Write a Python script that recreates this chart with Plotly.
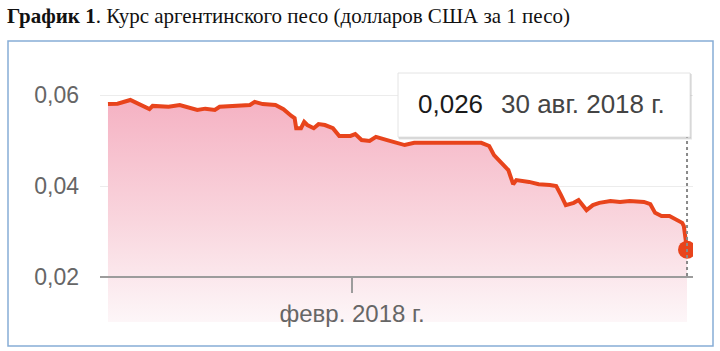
import plotly.graph_objects as go

# ---------------- data ----------------
dates = [
    "2017-09-01", "2017-09-07", "2017-09-15", "2017-09-21", "2017-09-27", "2017-09-29",
    "2017-10-09", "2017-10-16", "2017-10-22", "2017-10-27", "2017-11-01", "2017-11-07",
    "2017-11-10", "2017-11-23", "2017-11-29", "2017-12-02", "2017-12-07", "2017-12-15",
    "2017-12-20", "2017-12-25", "2017-12-27", "2017-12-28", "2017-12-31", "2018-01-02",
    "2018-01-04", "2018-01-08", "2018-01-11", "2018-01-15", "2018-01-20", "2018-01-24",
    "2018-01-31", "2018-02-03", "2018-02-07", "2018-02-12", "2018-02-16", "2018-02-23",
    "2018-02-28", "2018-03-06", "2018-03-12", "2018-03-21", "2018-04-03", "2018-04-15",
    "2018-04-23", "2018-04-28", "2018-05-01", "2018-05-04", "2018-05-07", "2018-05-10",
    "2018-05-13", "2018-05-15", "2018-05-23", "2018-05-29", "2018-06-05", "2018-06-09",
    "2018-06-12", "2018-06-15", "2018-06-20", "2018-06-23", "2018-06-28", "2018-07-02",
    "2018-07-06", "2018-07-13", "2018-07-19", "2018-07-25", "2018-08-03", "2018-08-07",
    "2018-08-10", "2018-08-14", "2018-08-19", "2018-08-24", "2018-08-27", "2018-08-28",
    "2018-08-29", "2018-08-30",
]
rate = [
    0.0580, 0.0581, 0.0589, 0.0580, 0.0569, 0.0576,
    0.0574, 0.0578, 0.0571, 0.0567, 0.0570, 0.0567,
    0.0574, 0.0576, 0.0578, 0.0585, 0.0580, 0.0578,
    0.0569, 0.0554, 0.0549, 0.0527, 0.0527, 0.0541,
    0.0534, 0.0527, 0.0536, 0.0534, 0.0527, 0.0510,
    0.0510, 0.0514, 0.0501, 0.0499, 0.0508, 0.0501,
    0.0495, 0.0490, 0.0495, 0.0495, 0.0497, 0.0497,
    0.0495, 0.0488, 0.0468, 0.0457, 0.0446, 0.0435,
    0.0404, 0.0413, 0.0409, 0.0404, 0.0402, 0.0400,
    0.0380, 0.0358, 0.0363, 0.0369, 0.0347, 0.0358,
    0.0363, 0.0367, 0.0365, 0.0367, 0.0365, 0.0360,
    0.0341, 0.0334, 0.0334, 0.0325, 0.0319, 0.0312,
    0.0290, 0.0260,
]
y_ticks = [0.02, 0.04, 0.06]
x_tick_dates = ["2018-02-01"]
x_tick_text = ["февр. 2018 г."]
title_bold = "График 1"
title_rest = ". Курс аргентинского песо (долларов США за 1 песо)"
tooltip_value = "0,026"
tooltip_date = "30 авг. 2018 г."

# ---------------- layout geometry ----------------
W, H = 720, 351
L, R, T, B = 100, 27, 60, 29
PW, PH = W - L - R, H - T - B


def px(x):
    return (x - L) / PW


def py(y):
    return (H - B - y) / PH


# y axis: 0.02 per 91 px, 0.02 line at pixel 277
y_lo = 0.02 - (H - B - 277) / 91 * 0.02
y_hi = 0.02 + (277 - T) / 91 * 0.02

LINE = "#e8441c"
FONT = "Liberation Sans, Arial, sans-serif"

fig = go.Figure()
fig.add_trace(go.Scatter(
    x=dates, y=rate, mode="lines",
    line=dict(color=LINE, width=4, shape="linear"),
    fill="tozeroy",
    fillgradient=dict(
        type="vertical",
        colorscale=[[0, "rgba(253,246,248,1)"], [0.45, "rgb(249,214,222)"], [1, "rgb(245,178,195)"]],
        start=y_lo, stop=max(rate),
    ),
    hoverinfo="skip", showlegend=False,
))
fig.add_trace(go.Scatter(
    x=[dates[-1]], y=[rate[-1]], mode="markers",
    marker=dict(color=LINE, size=18),
    hoverinfo="skip", showlegend=False,
))

shapes = [
    # outer frame
    dict(type="rect", xref="paper", yref="paper", x0=px(8), x1=px(713), y0=py(346), y1=py(41),
         line=dict(color="#86add6", width=1.5), fillcolor="rgba(0,0,0,0)", layer="above"),
    # dotted hover line
    dict(type="line", xref="x", yref="paper", x0=dates[-1], x1=dates[-1], y0=py(276), y1=py(73),
         line=dict(color="#8a8a8a", width=2, dash="dot"), layer="above"),
    # tooltip shadow
    dict(type="rect", xref="paper", yref="paper", x0=px(399), x1=px(692), y0=py(139.5), y1=py(74),
         line=dict(width=0), fillcolor="rgba(0,0,0,0.10)", layer="above"),
    dict(type="rect", xref="paper", yref="paper", x0=px(398), x1=px(691), y0=py(138.5), y1=py(73),
         line=dict(width=0), fillcolor="rgba(0,0,0,0.10)", layer="above"),
    # tooltip box
    dict(type="rect", xref="paper", yref="paper", x0=px(398), x1=px(690), y0=py(137), y1=py(73),
         line=dict(color="#e4e4e4", width=1), fillcolor="white", layer="above"),
]

annotations = [
    dict(xref="paper", yref="paper", x=px(5), y=py(16), xanchor="left", yanchor="middle",
         text=f"<b>{title_bold}</b>{title_rest}", showarrow=False,
         font=dict(family="Liberation Serif, Times New Roman, serif", size=21, color="#111")),
    dict(xref="paper", yref="paper", x=px(416), y=py(104), xanchor="left", yanchor="middle",
         text=tooltip_value, showarrow=False,
         font=dict(family=FONT, size=26, color="#1a1a1a")),
    dict(xref="paper", yref="paper", x=px(499), y=py(104), xanchor="left", yanchor="middle",
         text=tooltip_date, showarrow=False,
         font=dict(family=FONT, size=26, color="#444444")),
]

fig.update_layout(
    width=W, height=H,
    margin=dict(l=L, r=R, t=T, b=B),
    paper_bgcolor="white", plot_bgcolor="rgba(0,0,0,0)",
    separators=", ",
    showlegend=False,
    shapes=shapes, annotations=annotations,
    xaxis=dict(
        type="date", range=["2017-08-27", "2018-09-02 18:00"],
        anchor="free", position=py(277),
        showgrid=False, zeroline=False,
        showline=True, linecolor="#9c9c9c", linewidth=1.5,
        ticks="outside", ticklen=15, tickwidth=1.5, tickcolor="#9c9c9c",
        tickvals=x_tick_dates, ticktext=x_tick_text,
        tickfont=dict(family=FONT, size=24, color="#666666"),
        fixedrange=True,
    ),
    yaxis=dict(
        range=[y_lo, y_hi],
        tickvals=y_ticks, tickformat=".2f",
        showgrid=True, gridcolor="#ececec", gridwidth=1,
        zeroline=False, showline=False,
        ticks="", ticklabelstandoff=20,
        tickfont=dict(family=FONT, size=23, color="#666666"),
        fixedrange=True,
    ),
)

fig.write_html("out.html")
